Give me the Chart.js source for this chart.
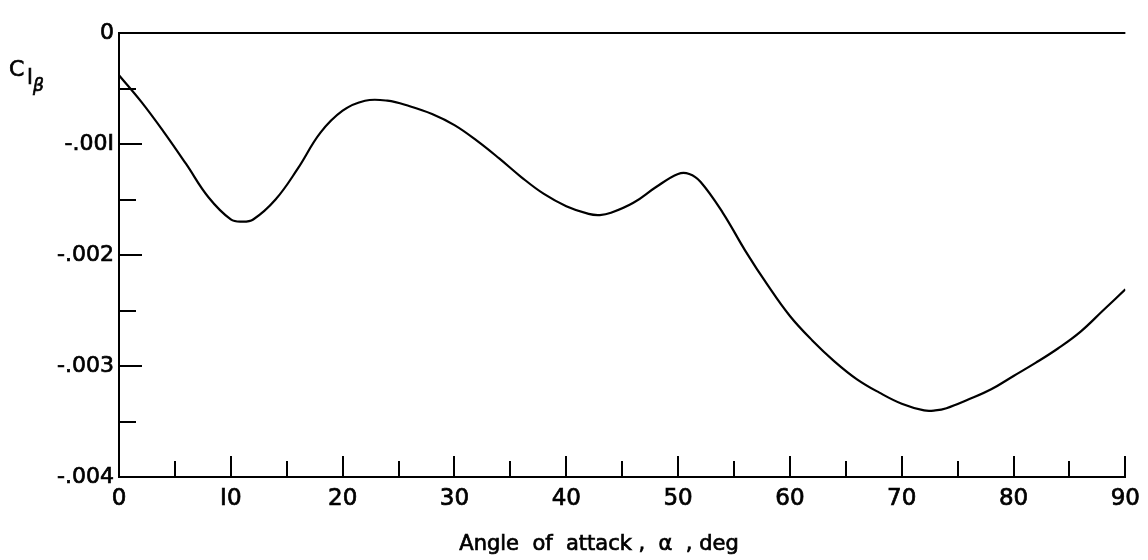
<!DOCTYPE html>
<html>
<head>
<meta charset="utf-8">
<script src="https://cdn.jsdelivr.net/npm/chart.js@4"></script>
<style>
  html, body { margin: 0; padding: 0; background: #fff; }
  #wrap { width: 1148px; height: 560px; }
</style>
</head>
<body>
<div id="wrap"><canvas id="clbChart"></canvas></div>
<script>
// angle of attack, deg
const alphaDeg = [0, 2, 4, 6, 8, 10, 11, 12, 14, 16, 18, 20, 22, 24, 26, 28, 30, 32, 34, 36, 38, 40, 42, 43, 44, 46, 48, 50, 51, 52, 54, 56, 58, 60, 62, 64, 66, 68, 70, 72, 73, 74, 76, 78, 80, 82, 84, 86, 88, 90];
// C_l_beta
const clBeta = [-0.00038, -0.00062, -0.00089, -0.00118, -0.00148, -0.00168, -0.00170, -0.00168, -0.00150, -0.00122, -0.00090, -0.00070, -0.00061, -0.00061, -0.00066, -0.00073, -0.00083, -0.00097, -0.00113, -0.00130, -0.00145, -0.00156, -0.00163, -0.00164, -0.00162, -0.00153, -0.00139, -0.00127, -0.00127, -0.00134, -0.00162, -0.00196, -0.00227, -0.00255, -0.00277, -0.00296, -0.00312, -0.00324, -0.00334, -0.00340, -0.00340, -0.00338, -0.00330, -0.00321, -0.00309, -0.00297, -0.00284, -0.00269, -0.00250, -0.00231];

const yTickLabels = { '0': '0', '-1': '-.00I', '-2': '-.002', '-3': '-.003', '-4': '-.004' };
const xTickLabels = { 0: '0', 10: 'I0', 20: '20', 30: '30', 40: '40', 50: '50', 60: '60', 70: '70', 80: '80', 90: '90' };
const xTitle = 'Angle  of  attack ,  \u03b1  , deg';

const FONT = '"DejaVu Sans", sans-serif';

const isMajorY = (v) => Math.abs(v * 1000 - Math.round(v * 1000)) < 1e-6;

// inward tick marks, y axis symbol and x axis title
const inwardTicks = {
    id: 'inwardTicks',
    afterDraw(chart) {
        const { ctx, chartArea, scales } = chart;
        ctx.save();
        ctx.strokeStyle = '#000';
        ctx.lineWidth = 2;
        scales.y.ticks.forEach((t) => {
            if (t.value === 0) return;
            const y = Math.round(scales.y.getPixelForValue(t.value));
            ctx.beginPath();
            ctx.moveTo(chartArea.left, y);
            ctx.lineTo(chartArea.left + (isMajorY(t.value) ? 23 : 17), y);
            ctx.stroke();
        });
        scales.x.ticks.forEach((t) => {
            if (t.value === 0) return;
            const x = Math.round(scales.x.getPixelForValue(t.value));
            ctx.beginPath();
            ctx.moveTo(x, chartArea.bottom);
            ctx.lineTo(x, chartArea.bottom - (t.value % 10 === 0 ? 21 : 16));
            ctx.stroke();
        });

        ctx.fillStyle = '#000';
        ctx.strokeStyle = '#000';
        ctx.lineWidth = 0.7;
        ctx.textBaseline = 'alphabetic';
        const txt = (s, font, x, y, align) => {
            ctx.font = font;
            ctx.textAlign = align || 'left';
            ctx.fillText(s, x, y);
            ctx.strokeText(s, x, y);
        };
        txt('C', '22px ' + FONT, 9, 76);
        txt('l', '21px ' + FONT, 27, 84);
        txt('\u03b2', 'italic 17px ' + FONT, 33, 91);
        txt(xTitle, '21px ' + FONT, 599, 550, 'center');
        ctx.restore();
    },
};

new Chart(document.getElementById('clbChart'), {
    type: 'line',
    data: {
        labels: alphaDeg,
        datasets: [
            {
                data: alphaDeg.map((a, i) => ({ x: a, y: clBeta[i] })),
                borderColor: '#000',
                borderWidth: 2.2,
                pointRadius: 0,
                tension: 0.4,
                fill: false,
            },
        ],
    },
    options: {
        responsive: true,
        maintainAspectRatio: false,
        animation: false,
        layout: { padding: { top: 33, right: 21, bottom: 0, left: 0 } },
        plugins: { legend: { display: false }, tooltip: { enabled: false } },
        scales: {
            x: {
                type: 'linear',
                min: 0,
                max: 90,
                afterFit: (s) => { s.height = 83; },
                ticks: {
                    stepSize: 5,
                    autoSkip: false,
                    maxRotation: 0,
                    padding: 8,
                    color: '#000',
                    textStrokeColor: '#000',
                    textStrokeWidth: 0.7,
                    font: { family: FONT, size: 23 },
                    callback: (v) => xTickLabels[v] ?? '',
                },
                grid: { display: true, drawOnChartArea: false, drawTicks: false },
                border: { display: true, color: '#000', width: 2 },
            },
            y: {
                min: -0.004,
                max: 0,
                afterFit: (s) => { s.width = 119; },
                ticks: {
                    stepSize: 0.0005,
                    autoSkip: false,
                    padding: 5,
                    color: '#000',
                    textStrokeColor: '#000',
                    textStrokeWidth: 0.7,
                    font: { family: FONT, size: 22 },
                    callback: (v) => (isMajorY(v) ? yTickLabels[String(Math.round(v * 1000) || 0)] : ''),
                },
                grid: {
                    drawTicks: false,
                    drawOnChartArea: true,
                    lineWidth: 2,
                    color: (c) => (c.tick && c.tick.value === 0 ? '#000' : 'rgba(0,0,0,0)'),
                },
                border: { display: true, color: '#000', width: 2 },
            },
        },
    },
    plugins: [inwardTicks],
});
</script>
</body>
</html>
